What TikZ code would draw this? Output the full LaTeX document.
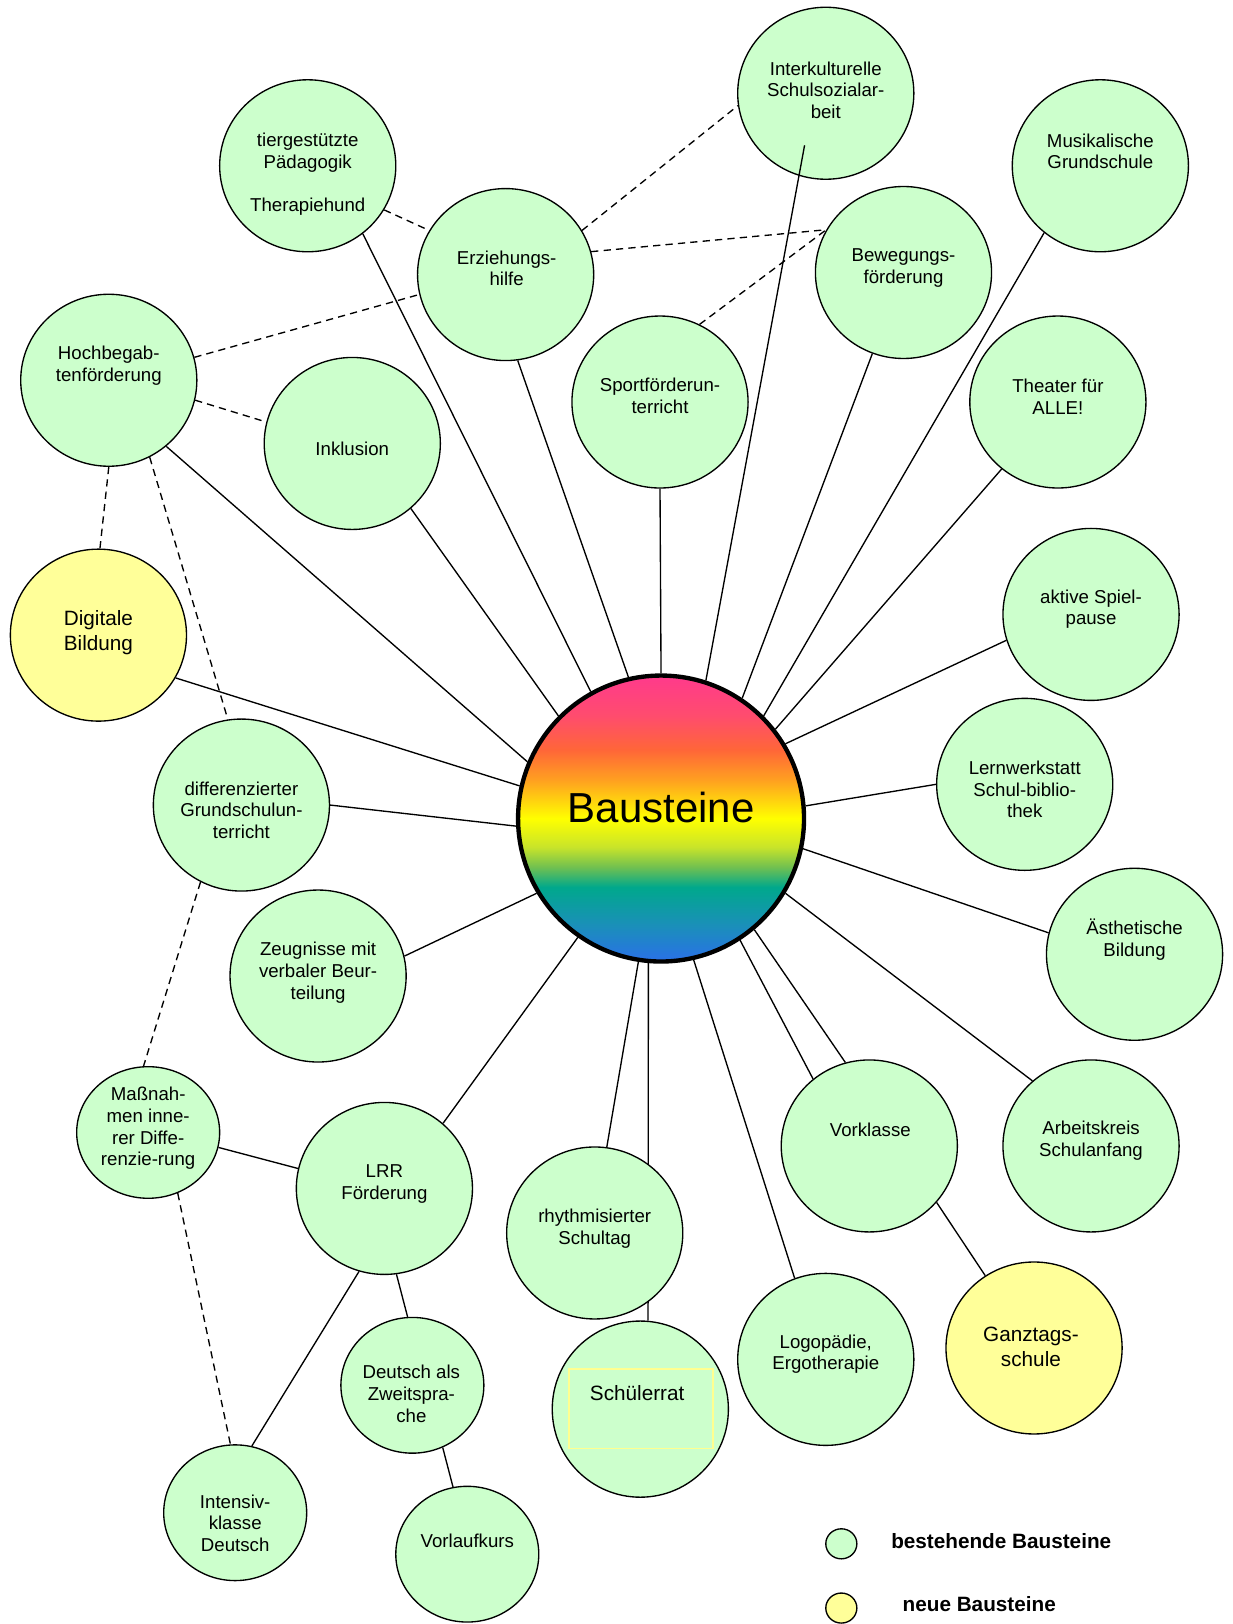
\documentclass[tikz,border=0pt]{standalone}
\usepackage{fontspec}
\setmainfont{Liberation Sans}
\usetikzlibrary{shapes.geometric,backgrounds}

\definecolor{bgruen}{HTML}{CCFFCC}
\definecolor{bgelb}{HTML}{FFFF99}
\definecolor{rahmengelb}{HTML}{FFFF90}
\definecolor{rbA}{HTML}{2A70E8}
\definecolor{rbB}{HTML}{1A90B8}
\definecolor{rbC}{HTML}{00A88C}
\definecolor{rbD}{HTML}{70C050}
\definecolor{rbE}{HTML}{C8E42A}
\definecolor{rbF}{HTML}{FFFF00}
\definecolor{rbG}{HTML}{FFA020}
\definecolor{rbH}{HTML}{FF6638}
\definecolor{rbI}{HTML}{FF4C6E}
\definecolor{rbJ}{HTML}{FF3A8C}
\pgfdeclareverticalshading{regenbogen}{100bp}{color(0bp)=(rbA); color(25bp)=(rbA);
  color(31.5bp)=(rbB); color(38bp)=(rbC); color(41.5bp)=(rbD); color(45bp)=(rbE);
  color(50bp)=(rbF); color(56.75bp)=(rbG); color(62bp)=(rbH); color(68bp)=(rbI);
  color(75bp)=(rbJ); color(100bp)=(rbJ)}

\newcommand\txtnorm{\fontsize{18}{21}\selectfont}
\newcommand\txtgross{\fontsize{20}{24}\selectfont}
\newcommand\txtlegende{\fontsize{20}{24}\selectfont\bfseries}

\begin{document}
\begin{tikzpicture}[x=1pt, y=-1pt,
	baustein/.style={ellipse, draw=black, line width=1.3pt, fill=bgruen, minimum width=170pt, minimum height=166pt, inner sep=0pt},
	neu/.style={baustein, fill=bgelb},
	klein/.style={baustein, minimum width=138pt, minimum height=131pt},
	beschr/.style={align=center, font=\txtnorm, inner sep=0pt},
	beschrgross/.style={beschr, font=\txtgross},
	linie/.style={line width=1.3pt},
	gestrichelt/.style={line width=1.3pt, dash pattern=on 7pt off 5pt}]
	\useasboundingbox (0,0) rectangle (1190,1567.4);

	% Mitte
	\node[circle, draw=black, line width=4.2pt, shade, shading=regenbogen, minimum size=276pt, inner sep=0pt] (baus) at (638,790) {};
	\node[font=\fontsize{40.5}{48}\selectfont, inner sep=0pt] (baus-t) at (638,779) {Bausteine};

	% Bausteine
	\node[baustein] (ik) at (797,90) {};
	\node[beschr] (ik-t) at (797,87) {Interkulturelle\\Schulsozialar-\\beit};
	\node[baustein] (tier) at (297,160) {};
	\node[beschr] (tier-t) at (297,168) {tiergestützte\\Pädagogik\\[21pt]Therapiehund};
	\node[baustein] (musik) at (1062,160) {};
	\node[beschr] (musik-t) at (1062,146) {Musikalische\\Grundschule};
	\node[baustein] (erz) at (488,265) {};
	\node[beschr] (erz-t) at (489,259) {Erziehungs-\\hilfe};
	\node[baustein] (beweg) at (872,263) {};
	\node[beschr] (beweg-t) at (872,259) {Bewegungs-\\förderung};
	\node[baustein] (hoch) at (105,367) {};
	\node[beschr] (hoch-t) at (105,353) {Hochbegab-\\tenförderung};
	\node[baustein] (sport) at (637,388) {};
	\node[beschr] (sport-t) at (637,382) {Sportförderun-\\terricht};
	\node[baustein] (theater) at (1021,388) {};
	\node[beschr] (theater-t) at (1021,383) {Theater für\\ALLE!};
	\node[baustein] (ink) at (340,428) {};
	\node[beschr] (ink-t) at (340,433) {Inklusion};
	\node[baustein] (aktiv) at (1053,593) {};
	\node[beschr] (aktiv-t) at (1053,588) {aktive Spiel-\\pause};
	\node[neu] (dig) at (95,613) {};
	\node[beschrgross] (dig-t) at (95,611) {Digitale\\Bildung};
	\node[baustein] (lern) at (989,757) {};
	\node[beschr] (lern-t) at (989,762) {Lernwerkstatt\\Schul-biblio-\\thek};
	\node[baustein] (diff) at (233,777) {};
	\node[beschr] (diff-t) at (233,782) {differenzierter\\Grundschulun-\\terricht};
	\node[baustein] (aesth) at (1095,921) {};
	\node[beschr] (aesth-t) at (1095,907) {Ästhetische\\Bildung};
	\node[baustein] (zeug) at (307,942) {};
	\node[beschr] (zeug-t) at (307,939) {Zeugnisse mit\\verbaler Beur-\\teilung};
	\node[baustein] (vork) at (839,1106) {};
	\node[beschr] (vork-t) at (840,1090) {Vorklasse};
	\node[baustein] (ak) at (1053,1106) {};
	\node[beschr] (ak-t) at (1053,1101) {Arbeitskreis\\Schulanfang};
	\node[klein, minimum height=127pt] (mass) at (143,1093) {};
	\node[beschr] (mass-t) at (143,1089) {Maßnah-\\men inne-\\rer Diffe-\\renzie-rung};
	\node[baustein] (lrr) at (371,1147) {};
	\node[beschr] (lrr-t) at (371,1143) {LRR\\Förderung};
	\node[baustein] (rhy) at (574,1190) {};
	\node[beschr] (rhy-t) at (574,1186) {rhythmisierter\\Schultag};
	\node[baustein, minimum height=170pt] (rat) at (618,1360) {};
	\node[draw=rahmengelb, line width=1.6pt, minimum width=139pt, minimum height=77pt, inner sep=0pt] (rat-box) at (618.5,1359.5) {};
	\node[beschrgross] (rat-t) at (615,1345) {Schülerrat};
	\node[baustein] (logo) at (797,1312) {};
	\node[beschr] (logo-t) at (797,1307) {Logopädie,\\Ergotherapie};
	\node[neu] (ganz) at (998,1301) {};
	\node[beschrgross] (ganz-t) at (995,1300) {Ganztags-\\schule};
	\node[klein] (daz) at (398,1337) {};
	\node[beschr] (daz-t) at (397,1345) {Deutsch als\\Zweitspra-\\che};
	\node[klein] (int) at (227,1460) {};
	\node[beschr] (int-t) at (227,1470) {Intensiv-\\klasse\\Deutsch};
	\node[klein] (vorl) at (451,1500) {};
	\node[beschr] (vorl-t) at (451,1487) {Vorlaufkurs};

	% Legende
	\node[baustein, minimum width=30pt, minimum height=29pt] (leg-alt) at (812,1490) {};
	\node[neu, minimum width=30pt, minimum height=29pt] (leg-neu) at (812,1552) {};
	\node[anchor=west, font=\txtlegende, inner sep=0pt] (leg-alt-t) at (860,1487) {bestehende Bausteine};
	\node[anchor=west, font=\txtlegende, inner sep=0pt] (leg-neu-t) at (871,1548) {neue Bausteine};

	% Verbindungen zur Mitte
	\draw[linie] (hoch.-49) -- (baus.157);
	\draw[linie] (tier.-51) -- (baus.119);
	\draw[linie] (ink.-48) -- (baus.135);
	\draw[linie] (erz.-82) -- (baus.103);
	\draw[linie] (sport.-90) -- (baus.90);
	\draw[linie, shorten <=-30pt] (ik.-108) -- (baus.72);
	\draw[linie] (beweg.-111) -- (baus.56);
	\draw[linie] (musik.-130) -- (baus.45);
	\draw[linie] (theater.-130) -- (baus.38);
	\draw[linie] (aktiv.-163) -- (baus.31);
	\draw[linie] (lern.180) -- (baus.5);
	\draw[linie] (aesth.166) -- (baus.-12);
	\draw[linie] (ak.132) -- (baus.-31);
	\draw[linie] (vork.106) -- (baus.-50);
	\draw[linie] (vork.130) -- (baus.-57);
	\draw[linie] (logo.111) -- (baus.-77);
	\draw[linie] (rhy.82) -- (baus.-99);
	\draw[linie] (lrr.48) -- (baus.-125);
	\draw[linie] (zeug.13) -- (baus.-149);
	\draw[linie] (diff.0) -- (baus.-177);
	\draw[linie] (dig.-29) -- (baus.167);
	\begin{scope}[on background layer]
		\draw[linie] (baus.-95) -- (rat.85);
	\end{scope}

	% weitere Verbindungen
	\draw[linie] (mass.-12) -- (lrr.167);
	\draw[linie] (lrr.-107) -- (int.76);
	\draw[linie] (lrr.-82) -- (daz.94);
	\draw[linie] (daz.-64) -- (vorl.102);
	\draw[linie] (vork.-40) -- (ganz.124);

	% gestrichelt
	\draw[gestrichelt] (tier.-30) -- (erz.150);
	\draw[gestrichelt] (erz.30) -- (ik.-172);
	\draw[gestrichelt] (erz.15) -- (beweg.151);
	\draw[gestrichelt] (sport.63) -- (beweg.151);
	\draw[gestrichelt] (hoch.15) -- (erz.-167);
	\draw[gestrichelt] (hoch.-13) -- (ink.166);
	\draw[gestrichelt] (hoch.-90) -- (dig.89);
	\draw[gestrichelt] (hoch.-62) -- (diff.99);
	\draw[gestrichelt] (diff.-118) -- (mass.94);
	\draw[gestrichelt] (mass.-64) -- (int.94);
\end{tikzpicture}
\end{document}
